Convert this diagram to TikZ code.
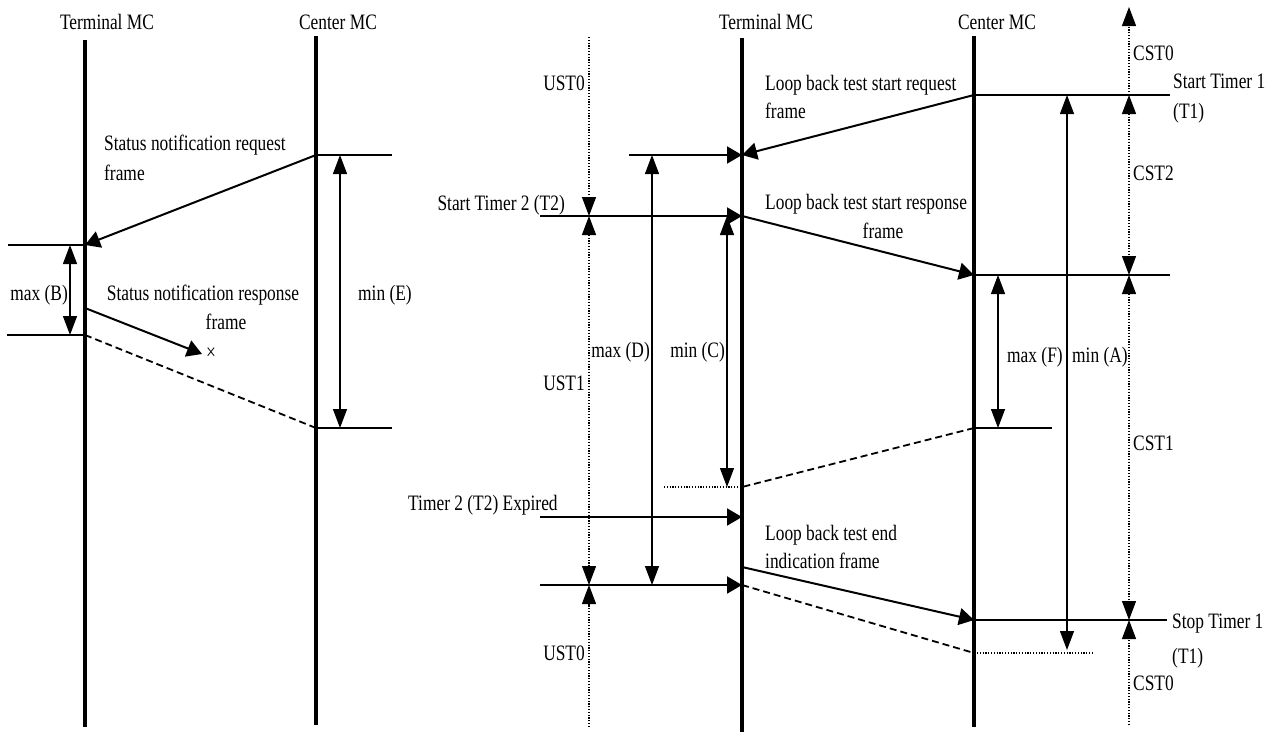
\documentclass[tikz,border=0pt]{standalone}
\usepackage{fontspec}
\setmainfont{Liberation Serif}[FakeStretch=0.79]
\usetikzlibrary{arrows.meta}
\tikzset{
  ht/.tip={Triangle[length=15pt,width=17pt]},
  vt/.tip={Triangle[length=19pt,width=14pt]},
}
\begin{document}
\begin{tikzpicture}[x=1pt,y=-1pt,
  life/.style={line width=3.6pt},
  msg/.style={line width=2pt},
  hline/.style={line width=2pt},
  thinl/.style={line width=1.3pt},
  dotl/.style={line width=1.2pt, dash pattern=on 1.2pt off 1.6pt},
  dashl/.style={line width=1.8pt, dash pattern=on 7pt off 4pt},
  lbl/.style={font=\fontsize{22}{26}\selectfont, inner sep=0pt},
]
\useasboundingbox (0,0) rectangle (1277,734);

% ================= LEFT DIAGRAM =================
\coordinate (LTt) at (85,40);  \coordinate (LTb) at (85,727);
\coordinate (LCt) at (316,36); \coordinate (LCb) at (316,725);
\node[lbl, anchor=base] (LTlab) at (107,29) {Terminal MC};
\node[lbl, anchor=base] (LClab) at (338,29) {Center MC};
\draw[life] (LTt) -- (LTb);
\draw[life] (LCt) -- (LCb);

\coordinate (reqS) at (316,155); \coordinate (reqR) at (392,155);
\coordinate (reqE) at (85,245);  \coordinate (BtL) at (8,245);
\coordinate (Bb) at (85,335);    \coordinate (BbL) at (7,335);
\draw[hline] (reqS) -- (reqR);
\draw[msg,-ht] (reqS) -- (reqE);
\draw[hline] (BtL) -- (reqE);
\draw[hline] (BbL) -- (Bb);

\coordinate (Bm1) at (70,245); \coordinate (Bm2) at (70,335);
\draw[thinl,vt-vt] (Bm1) -- (Bm2);
\node[lbl, anchor=base east] (maxB) at (68,300) {max (B)};

\coordinate (rspS) at (85,308); \coordinate (rspE) at (202,354);
\draw[msg,-ht] (rspS) -- (rspE);
\node[lbl] (lost) at (211,354) {×};

\coordinate (Eb) at (316,428); \coordinate (EbR) at (392,428);
\draw[dashl] (Bb) -- (Eb);
\draw[hline] (Eb) -- (EbR);
\coordinate (Em1) at (340,155); \coordinate (Em2) at (340,428);
\draw[thinl,vt-vt] (Em1) -- (Em2);
\node[lbl, anchor=base west] (minE) at (358,300) {min (E)};

\node[lbl, anchor=base west] (reqlab1) at (104,150) {Status notification request};
\node[lbl, anchor=base west] (reqlab2) at (104,180) {frame};
\node[lbl, anchor=base] (rsplab1) at (203,300) {Status notification response};
\node[lbl, anchor=base] (rsplab2) at (226,329) {frame};

% ================= RIGHT DIAGRAM =================
\coordinate (RTt) at (742,38);  \coordinate (RTb) at (742,732);
\coordinate (RCt) at (974,36);  \coordinate (RCb) at (974,727);
\node[lbl, anchor=base] (RTlab) at (766,29) {Terminal MC};
\node[lbl, anchor=base] (RClab) at (997,29) {Center MC};
\draw[life] (RTt) -- (RTb);
\draw[life] (RCt) -- (RCb);

% center side horizontal lines
\coordinate (st1) at (974,95);   \coordinate (st1R) at (1170,95);
\coordinate (r275) at (974,275); \coordinate (r275R) at (1170,275);
\coordinate (f428) at (974,428); \coordinate (f428R) at (1052,428);
\coordinate (stop) at (974,620); \coordinate (stopR) at (1167,620);
\coordinate (a653L) at (977,653); \coordinate (a653R) at (1093,653);
\coordinate (c653) at (974,653);
\draw[hline] (st1) -- (st1R);
\draw[thinl,line width=1.6pt] (r275) -- (r275R);
\draw[thinl,line width=1.6pt] (f428) -- (f428R);
\draw[hline] (stop) -- (stopR);
\draw[dotl] (a653L) -- (a653R);

% terminal side horizontal lines
\coordinate (d155L) at (629,155); \coordinate (t155) at (742,155);
\coordinate (st2L) at (540,216);  \coordinate (t216) at (742,216);
\coordinate (expL) at (540,517);  \coordinate (t517) at (742,517);
\coordinate (u585L) at (540,585); \coordinate (t585) at (742,585);
\coordinate (c487L) at (664,487); \coordinate (t487) at (742,487);
\coordinate (t567) at (742,567);
\draw[msg,-ht] (d155L) -- (t155);
\draw[msg,-ht] (st2L) -- (t216);
\draw[msg,-ht] (expL) -- (t517);
\draw[msg,-ht] (u585L) -- (t585);
\draw[dotl] (c487L) -- (t487);

% messages
\draw[msg,-ht] (st1) -- (t155);
\draw[msg,-ht] (t216) -- (r275);
\draw[msg,-ht] (t567) -- (stop);
\draw[dashl] (f428) -- (t487);
\draw[dashl] (t585) -- (c653);

% measure arrows
\coordinate (A1) at (1067,95);  \coordinate (A2) at (1067,650);
\coordinate (F1) at (998,275);  \coordinate (F2) at (998,428);
\coordinate (D1) at (652,155);  \coordinate (D2) at (652,585);
\coordinate (C1) at (727,216);  \coordinate (C2) at (727,487);
\draw[thinl,vt-vt] (A1) -- (A2);
\draw[thinl,vt-vt] (F1) -- (F2);
\draw[thinl,vt-vt] (D1) -- (D2);
\draw[thinl,vt-vt] (C1) -- (C2);

% CST states
\coordinate (cs0) at (1129,7);   \coordinate (cs1) at (1129,95);
\coordinate (cs2) at (1129,275); \coordinate (cs3) at (1129,620);
\coordinate (cs4) at (1129,725);
\draw[dotl,-vt] (cs1) -- (cs0);
\draw[dotl,vt-vt] (cs1) -- (cs2);
\draw[dotl,vt-vt] (cs2) -- (cs3);
\draw[dotl,-vt] (cs4) -- (cs3);

% UST states
\coordinate (us0) at (589,37);   \coordinate (us1) at (589,216);
\coordinate (us2) at (589,585);  \coordinate (us3) at (589,727);
\draw[dotl,-vt] (us0) -- (us1);
\draw[dotl,vt-vt] (us1) -- (us2);
\draw[dotl,-vt] (us3) -- (us2);

% labels
\node[lbl, anchor=base east] (ust0a) at (585,90) {UST0};
\node[lbl, anchor=base east] (ust1) at (585,390) {UST1};
\node[lbl, anchor=base east] (ust0b) at (585,660) {UST0};
\node[lbl, anchor=base east] (maxD) at (650,357) {max (D)};
\node[lbl, anchor=base east] (minC) at (725,357) {min (C)};
\node[lbl, anchor=base east] (st2lab) at (565,210) {Start Timer 2 (T2)};
\node[lbl, anchor=base west] (explab) at (408,510) {Timer 2 (T2) Expired};

\node[lbl, anchor=base west] (lbsr1) at (765,90) {Loop back test start request};
\node[lbl, anchor=base west] (lbsr2) at (765,118) {frame};
\node[lbl, anchor=base west] (lbrs1) at (765,209) {Loop back test start response};
\node[lbl, anchor=base] (lbrs2) at (883,238) {frame};
\node[lbl, anchor=base west] (lbe1) at (765,540) {Loop back test end};
\node[lbl, anchor=base west] (lbe2) at (765,568) {indication frame};

\node[lbl, anchor=base west] (st1a) at (1173,88) {Start Timer 1};
\node[lbl, anchor=base west] (st1b) at (1173,118) {(T1)};
\node[lbl, anchor=base west] (sp1a) at (1172,628) {Stop Timer 1};
\node[lbl, anchor=base west] (sp1b) at (1172,663) {(T1)};

\node[lbl, anchor=base west] (cst0a) at (1133,60) {CST0};
\node[lbl, anchor=base west] (cst2) at (1133,180) {CST2};
\node[lbl, anchor=base west] (cst1) at (1133,450) {CST1};
\node[lbl, anchor=base west] (cst0b) at (1133,690) {CST0};

\node[lbl, anchor=base west] (maxF) at (1007,362) {max (F)};
\node[lbl, anchor=base west] (minA) at (1072,362) {min (A)};
\end{tikzpicture}
\end{document}
